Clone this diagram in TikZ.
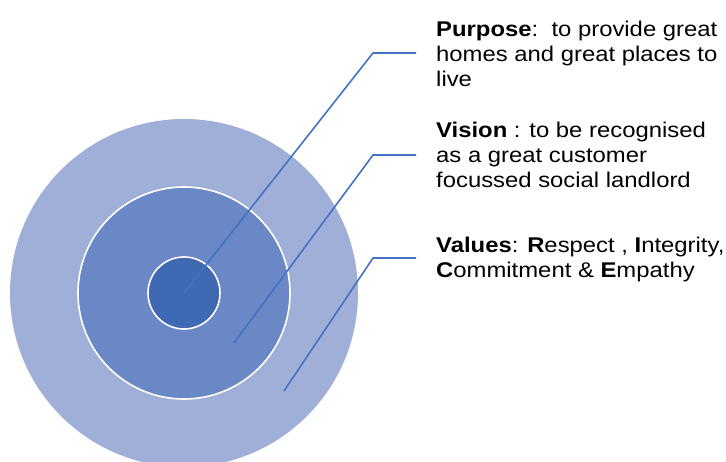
\documentclass[tikz,border=0pt]{standalone}
\usepackage{fontspec}
\setmainfont{Liberation Sans}[FakeStretch=1.12]
\definecolor{ringOuter}{HTML}{9FAFD8}
\definecolor{ringMiddle}{HTML}{6B88C6}
\definecolor{ringInner}{HTML}{3F69B2}
\definecolor{leader}{HTML}{4472C4}
\begin{document}
\begin{tikzpicture}[x=1pt,y=-1pt,
  ring/.style={circle,inner sep=0pt,minimum size=#1},
  label text/.style={anchor=north west,inner sep=0pt,align=left,
    font=\fontsize{21.3}{25}\selectfont},
  leader line/.style={draw=leader,line width=1.6pt}]
\useasboundingbox (0,0) rectangle (726,462);
\clip (0,0) rectangle (726,462);
% concentric rings
\node[ring=348pt,fill=ringOuter] (outer) at (184,293) {};
\node[ring=212pt,fill=ringMiddle,draw=white,line width=1.6pt] (middle) at (184,293) {};
\node[ring=72pt,fill=ringInner,draw=white,line width=1.6pt] (inner) at (184,293) {};
% text blocks
\node[label text] (purpose) at (436,20.5)
  {\textbf{Purpose}:\ \ to provide great\\homes and great places to\\live};
\node[label text] (vision) at (436,122)
  {\textbf{Vision} : to be recognised\\as a great customer\\focussed social landlord};
\node[label text] (values) at (436,237)
  {\textbf{Values}: \textbf{R}espect , \textbf{I}ntegrity,\\\textbf{C}ommitment \& \textbf{E}mpathy};
% leader anchors
\coordinate (pStart) at (inner.center);
\coordinate (vStart) at (234,343);
\coordinate (wStart) at (284,391);
\coordinate (pEnd) at (416,53);
\coordinate (vEnd) at (416,155);
\coordinate (wEnd) at (416,258);
\coordinate (pBend) at ([xshift=-43pt]pEnd);
\coordinate (vBend) at ([xshift=-43pt]vEnd);
\coordinate (wBend) at ([xshift=-43pt]wEnd);
% leader lines
\draw[leader line] (pStart) -- (pBend) -- (pEnd);
\draw[leader line] (vStart) -- (vBend) -- (vEnd);
\draw[leader line] (wStart) -- (wBend) -- (wEnd);
\end{tikzpicture}
\end{document}
